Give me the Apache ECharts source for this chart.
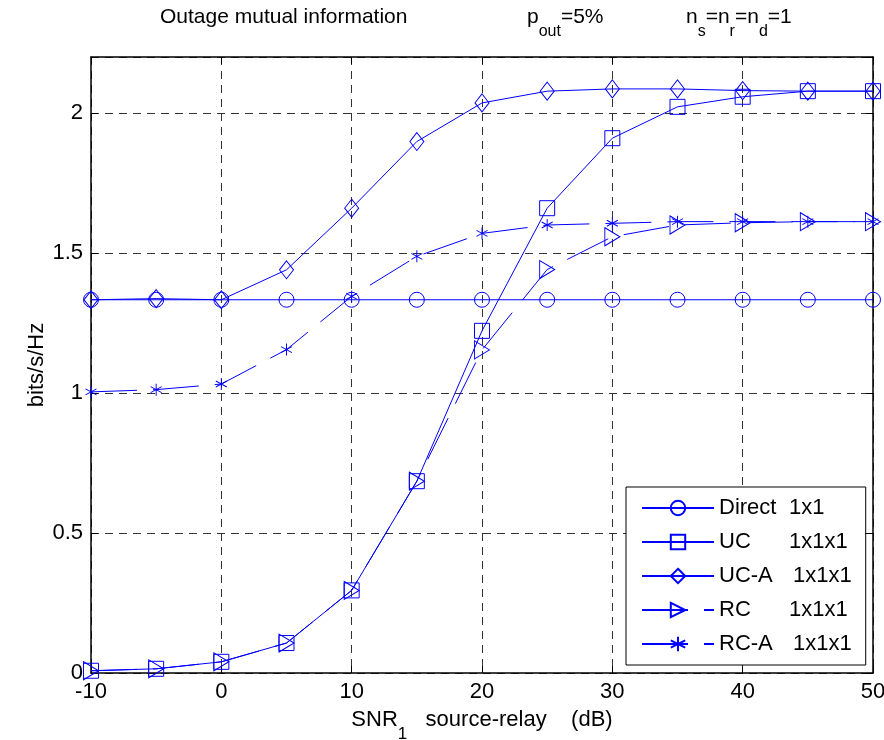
<!DOCTYPE html>
<html>
<head>
<meta charset="utf-8">
<script src="https://cdn.jsdelivr.net/npm/echarts@6/dist/echarts.min.js"></script>
<style>html,body{margin:0;padding:0;background:#fff;overflow:hidden}#c{width:884px;height:740px}</style>
</head>
<body>
<div id="c"></div>
<script>
const snr = [-10, -5, 0, 5, 10, 15, 20, 25, 30, 35, 40, 45, 50];
const direct = [1.333, 1.333, 1.333, 1.333, 1.333, 1.333, 1.333, 1.333, 1.333, 1.333, 1.333, 1.333, 1.333];
const uc     = [0.008, 0.015, 0.040, 0.107, 0.295, 0.685, 1.222, 1.660, 1.910, 2.022, 2.058, 2.078, 2.078];
const ucA    = [1.333, 1.337, 1.333, 1.440, 1.660, 1.898, 2.036, 2.078, 2.086, 2.086, 2.080, 2.078, 2.078];
const rc     = [0.008, 0.015, 0.040, 0.107, 0.295, 0.685, 1.154, 1.441, 1.558, 1.600, 1.608, 1.612, 1.612];
const rcA    = [1.004, 1.012, 1.032, 1.155, 1.345, 1.488, 1.570, 1.600, 1.606, 1.612, 1.612, 1.612, 1.612];
const xTicks = {min: -10, max: 50, interval: 10};
const yTicks = {min: 0, max: 2.2, interval: 0.5};
const names = ['Direct 1x1', 'UC      1x1x1', 'UC-A  1x1x1', 'RC      1x1x1', 'RC-A  1x1x1'];
const legendParts = {
  'Direct 1x1': ['Direct', '1x1', 'a'],
  'UC      1x1x1': ['UC', '1x1x1', 'a'],
  'UC-A  1x1x1': ['UC-A', '1x1x1', 'c'],
  'RC      1x1x1': ['RC', '1x1x1', 'a'],
  'RC-A  1x1x1': ['RC-A', '1x1x1', 'c']
};

const FONT = 'Liberation Sans, Arial, Helvetica, sans-serif';
const BLUE = '#0000ff';
const pairs = arr => snr.map((x, i) => [x, arr[i]]);
const hollow = {color: 'rgba(255,255,255,0)', borderColor: BLUE, borderWidth: 1};
const star = 'path://M0,-1L0,1M-0.866,-0.5L0.866,0.5M-0.866,0.5L0.866,-0.5';

function mk(name, data, symbol, size, dashed, rot) {
  return {
    name: name, type: 'line', data: pairs(data),
    symbol: symbol, symbolSize: size, symbolRotate: rot || 0,
    showAllSymbol: true,
    lineStyle: {color: BLUE, width: 1, type: dashed ? [46, 16] : 'solid'},
    itemStyle: hollow,
    emphasis: {disabled: true},
    animation: false
  };
}

const subRich = (fs, sfs) => ({
  n: {fontFamily: FONT, fontSize: fs, verticalAlign: 'top', lineHeight: fs + 2},
  s: {fontFamily: FONT, fontSize: sfs, verticalAlign: 'bottom', lineHeight: fs + 12}
});

const chart = echarts.init(document.getElementById('c'), null, {renderer: 'canvas', width: 884, height: 740});
const gridLine = {show: true, lineStyle: {color: '#333', width: 1, type: [8, 6]}};
const axisLine = {show: true, onZero: false, lineStyle: {color: '#000', width: 1.5}};
const tick = {show: true, inside: true, length: 7, lineStyle: {color: '#000'}};
const titleStyle = {fontFamily: FONT, fontSize: 21, fontWeight: 'normal', color: '#000', rich: subRich(21, 16)};
chart.setOption({
  backgroundColor: '#fff',
  animation: false,
  textStyle: {fontFamily: FONT},
  title: [
    {text: 'Outage mutual information', left: 160, top: 7, padding: 0, textStyle: titleStyle},
    {text: '{n|p}{s|out}{n|=5%}', left: 527, top: 7, padding: 0, textStyle: titleStyle},
    {text: '{n|n}{s|s}{n|=n}{s|r}{n|=n}{s|d}{n|=1}', left: 686, top: 7, padding: 0, textStyle: titleStyle}
  ],
  grid: {left: 91, right: 11, top: 57, bottom: 67, containLabel: false, outerBoundsMode: 'none'},
  xAxis: [
    {type: 'value', position: 'bottom', min: xTicks.min, max: xTicks.max, interval: xTicks.interval,
     axisLine: axisLine, axisTick: tick, splitLine: gridLine,
     axisLabel: {color: '#000', fontSize: 22, fontFamily: FONT, margin: 8},
     name: '{n|SNR}{s|1}{n|   source-relay    (dB)}', nameLocation: 'middle', nameGap: 36,
     nameMoveOverlap: false,
     nameTextStyle: {color: '#000', fontFamily: FONT, fontSize: 22, rich: subRich(22, 17)}},
    {type: 'value', position: 'top', min: xTicks.min, max: xTicks.max, interval: xTicks.interval,
     axisLine: axisLine, axisTick: tick, splitLine: {show: false}, axisLabel: {show: false}}
  ],
  yAxis: [
    {type: 'value', position: 'left', min: yTicks.min, max: yTicks.max, interval: yTicks.interval,
     axisLine: axisLine, axisTick: tick, splitLine: gridLine,
     axisLabel: {color: '#000', fontSize: 22, fontFamily: FONT, margin: 8, showMaxLabel: false},
     name: 'bits/s/Hz', nameLocation: 'middle', nameGap: 43, nameRotate: 90,
     nameMoveOverlap: false,
     nameTextStyle: {color: '#000', fontFamily: FONT, fontSize: 22}},
    {type: 'value', position: 'right', min: yTicks.min, max: yTicks.max, interval: yTicks.interval,
     axisLine: axisLine, axisTick: tick, splitLine: {show: false}, axisLabel: {show: false}}
  ],
  legend: {
    orient: 'vertical', left: 626, top: 487,
    data: names,
    backgroundColor: '#fff', borderColor: '#000', borderWidth: 1,
    padding: [10, 14, 10, 15],
    itemWidth: 72, itemHeight: 18, itemGap: 12,
    selectedMode: false,
    formatter: n => { const p = legendParts[n]; return '{' + p[2] + '|' + p[0] + '}{b|' + p[1] + '}'; },
    textStyle: {fontFamily: FONT, fontSize: 22, color: '#000',
      rich: {a: {fontFamily: FONT, fontSize: 22, width: 70}, c: {fontFamily: FONT, fontSize: 22, width: 74},
             b: {fontFamily: FONT, fontSize: 22}}}
  },
  series: [
    mk(names[0], direct, 'circle', 15, false),
    mk(names[1], uc, 'rect', 15, false),
    mk(names[2], ucA, 'diamond', [14, 18], false),
    mk(names[3], rc, 'triangle', [18, 15], true, -90),
    mk(names[4], rcA, star, [11, 12], true)
  ]
});
</script>
</body>
</html>
